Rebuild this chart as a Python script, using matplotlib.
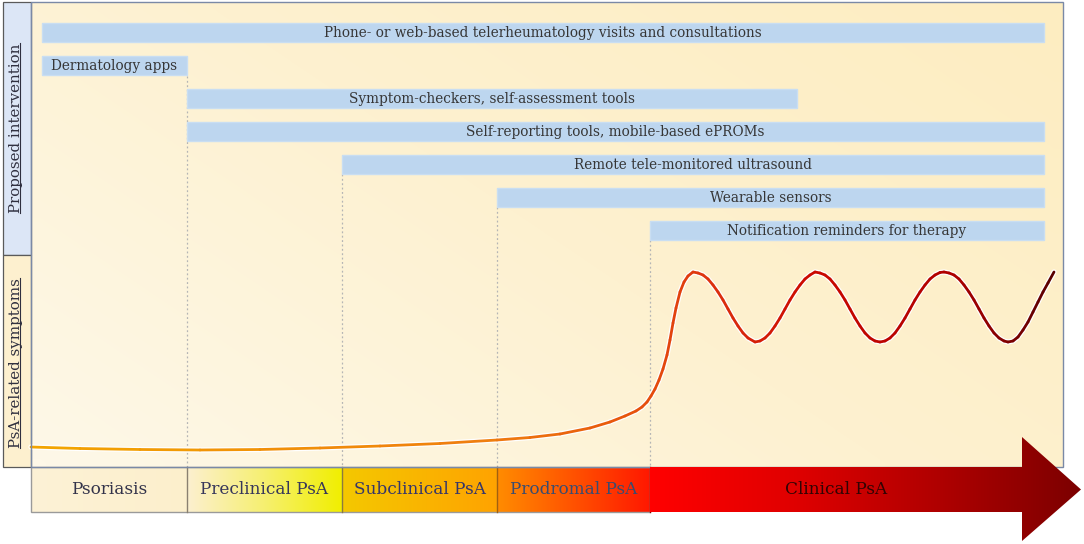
import numpy as np
import matplotlib
matplotlib.use("Agg")
import matplotlib.pyplot as plt
from matplotlib.patches import Rectangle, Polygon
from matplotlib.colors import LinearSegmentedColormap
from matplotlib.collections import LineCollection

### data ###
stages = ["Psoriasis", "Preclinical PsA", "Subclinical PsA", "Prodromal PsA", "Clinical PsA"]
stage_edges = [31, 187, 342, 497, 650, 1022]
stage_text_colors = ["#33334a", "#36365a", "#35356a", "#3a4c70", "#300404"]

interventions = ["Phone- or web-based telerheumatology visits and consultations",
                 "Dermatology apps",
                 "Symptom-checkers, self-assessment tools",
                 "Self-reporting tools, mobile-based ePROMs",
                 "Remote tele-monitored ultrasound",
                 "Wearable sensors",
                 "Notification reminders for therapy"]
int_start = [42, 42, 187, 187, 342, 497, 650]
int_end = [1044, 187, 797, 1044, 1044, 1044, 1044]

# symptom curve (pixel coords)
curve_x = [31, 80, 140, 200, 260, 320, 380, 440, 497, 530, 560, 590, 610, 625, 636, 642,
           647, 651, 655, 659, 663, 667, 670, 673, 676, 680, 684, 688, 693,
           698, 703, 708, 713, 718, 723, 728, 733, 738, 743, 748, 755,
           760, 765, 770, 775, 780, 785, 790, 795, 800, 805, 810, 815,
           820, 825, 830, 835, 840, 845, 850, 855, 860, 865, 870, 875, 880,
           885, 890, 895, 900, 905, 910, 915, 920, 925, 930, 935, 940, 944,
           949, 954, 959, 964, 969, 974, 979, 984, 989, 994, 999, 1004, 1008,
           1013, 1018, 1023, 1028, 1033, 1038, 1043, 1048, 1054]
curve_y = [447, 448.5, 449.5, 450, 449.5, 448, 446, 443.5, 440, 437.5, 434, 428, 422, 416, 411, 407,
           402, 396, 389, 380, 369, 355, 340, 323, 308, 292, 282, 276, 272,
           273, 275, 279, 285, 292, 300, 309, 318, 326, 333, 338, 342,
           341, 338, 333, 326, 318, 309, 300, 292, 285, 279, 275, 272,
           273, 275, 279, 285, 292, 300, 309, 318, 326, 333, 338, 341, 342,
           341, 338, 333, 326, 318, 309, 300, 292, 285, 279, 275, 272.5, 272,
           273, 275, 279, 285, 292, 300, 309, 318, 326, 333, 338, 341, 342,
           341, 337, 330, 322, 312, 302, 292, 283, 272]

W, H = 1084, 544
FONT = "DejaVu Serif"

fig = plt.figure(figsize=(W / 100, H / 100), dpi=100)
ax = fig.add_axes([0, 0, 1, 1])


def grad(x0, x1, y0, y1, colors, clip=None, z=1):
    cm = LinearSegmentedColormap.from_list("g", colors)
    im = ax.imshow(np.linspace(0, 1, 256).reshape(1, -1), cmap=cm, extent=(x0, x1, y1, y0),
                   aspect="auto", zorder=z, interpolation="bilinear")
    if clip is not None:
        im.set_clip_path(clip)
    return im


### panel background ###
px0, px1, py0, py1 = 31, 1063, 2, 467
gx, gy = np.meshgrid(np.linspace(0, 1, 60), np.linspace(0, 1, 60))
bg = 0.6 * gx + 0.4 * (1 - gy)
bg_cm = LinearSegmentedColormap.from_list("bg", ["#fef8e8", "#fdf1d0", "#fdedc1"])
ax.imshow(bg, cmap=bg_cm, extent=(px0, px1, py1, py0), aspect="auto", zorder=0,
          interpolation="bilinear")
ax.add_patch(Rectangle((px0, py0), px1 - px0, py1 - py0, fill=False,
                       edgecolor="#7a89a6", lw=1.0, zorder=8))

### left labels ###
ax.add_patch(Rectangle((3, 2), 28, 253, facecolor="#dce6f6", edgecolor="#5a5a5a", lw=0.9, zorder=2))
ax.add_patch(Rectangle((3, 255), 28, 212, facecolor="#fdf0cf", edgecolor="#5a5a5a", lw=0.9, zorder=2))
side_labels = [("Proposed intervention", 128), ("PsA-related symptoms", 363)]
side_txt = []
for lab, yc in side_labels:
    t = ax.text(16, yc, lab, rotation=90, ha="center", va="center", fontsize=10.8,
                family=FONT, color="#2f2f3f", zorder=5)
    side_txt.append(t)

### intervention bars ###
for i, lab in enumerate(interventions):
    yt = 23 + 33 * i
    ax.add_patch(Rectangle((int_start[i], yt), int_end[i] - int_start[i], 19,
                           facecolor="#bdd6ef", edgecolor="#c9def2", lw=1.0, zorder=3))
    ax.text((int_start[i] + int_end[i]) / 2, yt + 10, lab, ha="center", va="center",
            fontsize=9.8, family=FONT, color="#363636", zorder=4)

# dotted guide lines
guide_top = {187: 76, 342: 174, 497: 207, 650: 240}
for xg, yt in guide_top.items():
    ax.plot([xg, xg], [yt, 467], ls=(0, (1.5, 2)), color="#b5b5b5", lw=0.9, zorder=2)

### symptom curve ###
cx = np.array(curve_x, float)
cy = np.array(curve_y, float)
ax.plot(cx, cy, color="white", lw=3.8, solid_capstyle="round", solid_joinstyle="round", zorder=5)
pts = np.column_stack([cx, cy]).reshape(-1, 1, 2)
segs = np.concatenate([pts[:-1], pts[1:]], axis=1)
curve_cm = LinearSegmentedColormap.from_list(
    "c", [(0, "#f2a600"), (0.45, "#ef7d10"), (0.6, "#e6500c"), (0.66, "#de3510"),
          (0.76, "#cc0a00"), (0.9, "#b00000"), (1, "#5a0000")])
norm_x = (cx[:-1] + cx[1:]) / 2
norm_x = (norm_x - cx.min()) / (cx.max() - cx.min())
lc = LineCollection(segs, colors=curve_cm(norm_x), linewidths=2.0, capstyle="round",
                    joinstyle="round", zorder=6)
ax.add_collection(lc)

### stage arrow ###
by0, by1 = 467, 512
stage_cols = [["#fdf2d6", "#fcefcc"], ["#fcefd0", "#f6f070", "#f1ee00"],
              ["#f4c800", "#ffa300"], ["#ff8c00", "#ff1800"]]
for i in range(4):
    r = Rectangle((stage_edges[i], by0), stage_edges[i + 1] - stage_edges[i], by1 - by0,
                  facecolor="none", edgecolor="none")
    ax.add_patch(r)
    grad(stage_edges[i], stage_edges[i + 1], by0, by1, stage_cols[i], clip=r, z=3)
ax.add_patch(Rectangle((31, by0), 650 - 31, by1 - by0, fill=False, edgecolor="#9a9a9a",
                       lw=1.0, zorder=4))
sep_cols = ["#8a8070", "#8a7a40", "#a06010", "#8a0000"]
for i in range(1, 5):
    ax.plot([stage_edges[i]] * 2, [by0, by1], color=sep_cols[i - 1], lw=1.0, zorder=5)

arrow = Polygon([(650, by0), (1022, by0), (1022, 437), (1081, 489.5), (1022, 541),
                 (1022, by1), (650, by1)], closed=True, facecolor="none", edgecolor="none")
ax.add_patch(arrow)
grad(650, 1081, 437, 541, ["#ff0000", "#e00000", "#b00000", "#7c0000"], clip=arrow, z=9)

for i, lab in enumerate(stages):
    xm = (stage_edges[i] + stage_edges[i + 1]) / 2
    ax.text(xm, 490, lab, ha="center", va="center", fontsize=12.2, family=FONT,
            color=stage_text_colors[i], zorder=10)

ax.set_xlim(0, W)
ax.set_ylim(H, 0)
ax.axis("off")

# underline the rotated side labels
fig.canvas.draw()
inv = ax.transData.inverted()
for t in side_txt:
    bb = t.get_window_extent()
    (x0, y0), (x1, y1) = inv.transform([[bb.x0, bb.y0], [bb.x1, bb.y1]])
    ax.plot([x1 - 3.0, x1 - 3.0], [y0, y1], color="#2f2f3f", lw=0.8, zorder=5)

fig.savefig("out.png", dpi=100)
